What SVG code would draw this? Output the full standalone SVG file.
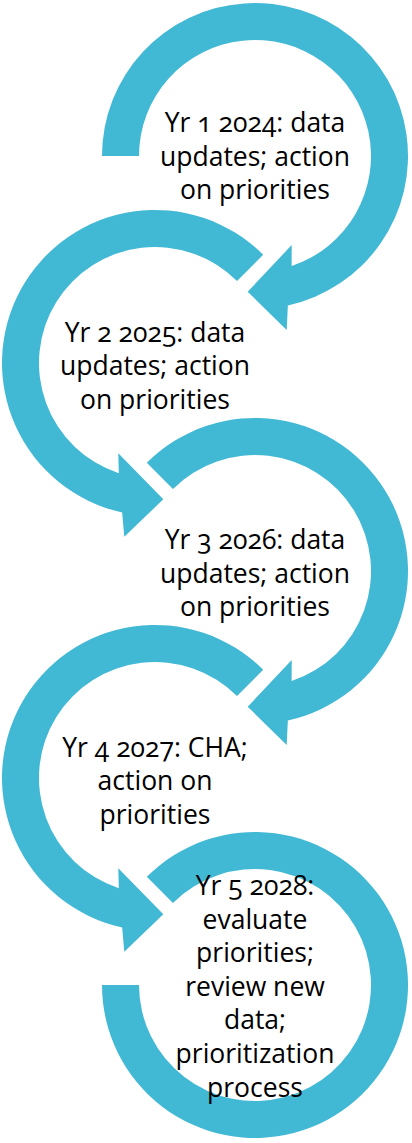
<svg xmlns="http://www.w3.org/2000/svg" width="412" height="1143" viewBox="0 0 412 1143">
  <style>
    .ring { fill: #41B8D4; stroke: none; }
    .label { font-family: "Open Sans", "Liberation Sans", sans-serif; font-size: 26.5px; fill: #000; text-anchor: middle; font-variant-numeric: oldstyle-nums; }
  </style>
  <defs>
    <!-- circular arrow, tail at 180deg, head ending lower right (pointing left) -->
    <path id="arrowRightFromLeft" d="M -153 0 A 153 153 0 1 1 32.85 149.43 L 31.7 174 L -7.3 135.7 L 36.7 89 L 36.61 110.07 A 116 116 0 1 0 -116 0 Z"/>
    <!-- circular arrow, tail at upper left (225deg), clockwise -->
    <path id="arrowCW" d="M -108.19 -108.19 A 153 153 0 1 1 32.85 149.43 L 31.7 174 L -7.3 135.7 L 36.7 89 L 36.61 110.07 A 116 116 0 1 0 -82.02 -82.02 Z"/>
    <!-- circular arrow, tail at upper right (315deg), counter-clockwise -->
    <path id="arrowCCW" d="M 108.19 -108.19 A 153 153 0 1 0 -32.85 149.43 L -30.7 173.7 L 8.3 136.3 L -36.7 90.3 L -36.2 110.2 A 116 116 0 1 1 82.02 -82.02 Z"/>
    <!-- closing ring without head -->
    <path id="ringOpen" d="M -108.19 -108.19 A 153 153 0 1 1 -153 0 L -116 0 A 116 116 0 1 0 -82.02 -82.02 Z"/>
  </defs>

  <g id="node-yr1">
    <use href="#arrowRightFromLeft" class="ring" transform="translate(255,156)"/>
    <text class="label" x="255" y="132">Yr 1 2024: data</text>
    <text class="label" x="255" y="165.6">updates; action</text>
    <text class="label" x="255" y="199.2">on priorities</text>
  </g>

  <g id="node-yr2">
    <use href="#arrowCCW" class="ring" transform="translate(155,363)"/>
    <text class="label" x="155" y="341.5">Yr 2 2025: data</text>
    <text class="label" x="155" y="375">updates; action</text>
    <text class="label" x="155" y="408.5">on priorities</text>
  </g>

  <g id="node-yr3">
    <use href="#arrowCW" class="ring" transform="translate(255,571)"/>
    <text class="label" x="255" y="549">Yr 3 2026: data</text>
    <text class="label" x="255" y="582.5">updates; action</text>
    <text class="label" x="255" y="616">on priorities</text>
  </g>

  <g id="node-yr4">
    <use href="#arrowCCW" class="ring" transform="translate(155,778)"/>
    <text class="label" x="155" y="756.5">Yr 4 2027: CHA;</text>
    <text class="label" x="155" y="790">action on</text>
    <text class="label" x="155" y="823.5">priorities</text>
  </g>

  <g id="node-yr5">
    <use href="#ringOpen" class="ring" transform="translate(255,985)"/>
    <text class="label" x="255" y="895">Yr 5 2028:</text>
    <text class="label" x="255" y="928.6">evaluate</text>
    <text class="label" x="255" y="962.2">priorities;</text>
    <text class="label" x="255" y="995.8">review new</text>
    <text class="label" x="255" y="1029.4">data;</text>
    <text class="label" x="255" y="1063">prioritization</text>
    <text class="label" x="255" y="1096.6">process</text>
  </g>
</svg>
